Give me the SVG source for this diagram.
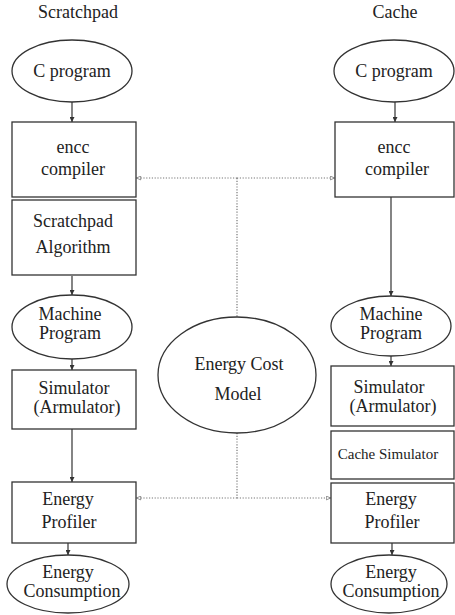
<svg xmlns="http://www.w3.org/2000/svg" width="455" height="615" viewBox="0 0 455 615">
<style>
.n{fill:#fff;stroke:#333;stroke-width:1.3}
.t{font-family:"Liberation Serif","Times New Roman",serif;font-size:18px;fill:#222;text-anchor:middle}
.s{font-size:15px}
.c{stroke:#333;stroke-width:1.2;fill:none}
.d{stroke:#777;stroke-width:1.2;fill:none;stroke-dasharray:1.2 1.6}
</style>
<defs>
<marker id="a" viewBox="0 0 8 8" refX="8" refY="4" markerWidth="5" markerHeight="5" orient="auto" markerUnits="userSpaceOnUse">
<path d="M0,0 L8,4 L0,8 Z" fill="#333"/>
</marker>
<marker id="o" viewBox="0 0 8 8" refX="8" refY="4" markerWidth="6" markerHeight="5" orient="auto" markerUnits="userSpaceOnUse">
<path d="M0.5,1 L7.5,4 L0.5,7 Z" fill="#fff" stroke="#555" stroke-width="1"/>
</marker>
</defs>
<rect width="455" height="615" fill="#fff"/>
<text class="t" x="38" y="18" style="text-anchor:start">Scratchpad</text>
<text class="t" x="395" y="18">Cache</text>

<g id="connectors">
<line class="c" x1="72" y1="102" x2="72" y2="122" marker-end="url(#a)"/>
<line class="c" x1="72" y1="276" x2="72" y2="295" marker-end="url(#a)"/>
<line class="c" x1="72" y1="359" x2="72" y2="370" marker-end="url(#a)"/>
<line class="c" x1="72" y1="429" x2="72" y2="482" marker-end="url(#a)"/>
<line class="c" x1="68" y1="543" x2="68" y2="555" marker-end="url(#a)"/>
<line class="c" x1="395" y1="102" x2="395" y2="122" marker-end="url(#a)"/>
<line class="c" x1="391" y1="197" x2="391" y2="296" marker-end="url(#a)"/>
<line class="c" x1="391" y1="356" x2="391" y2="366" marker-end="url(#a)"/>
<line class="c" x1="392" y1="543" x2="392" y2="555" marker-end="url(#a)"/>
<line class="d" x1="237" y1="178" x2="136" y2="178" marker-end="url(#o)"/>
<line class="d" x1="237" y1="178" x2="335" y2="178" marker-end="url(#o)"/>
<line class="d" x1="237" y1="178" x2="237" y2="318"/>
<line class="d" x1="237" y1="433" x2="237" y2="498"/>
<line class="d" x1="237" y1="498" x2="136" y2="498" marker-end="url(#o)"/>
<line class="d" x1="237" y1="498" x2="331" y2="498" marker-end="url(#o)"/>
</g>

<g id="l-cprog"><ellipse class="n" cx="72" cy="71" rx="60" ry="31"/><text class="t" x="72" y="77">C program</text></g>
<g id="l-encc"><rect class="n" x="12" y="122" width="124" height="75"/><text class="t" x="73" y="153">encc</text><text class="t" x="73" y="175">compiler</text></g>
<g id="l-algo"><rect class="n" x="12" y="200" width="124" height="75"/><text class="t" x="73" y="227">Scratchpad</text><text class="t" x="73" y="253">Algorithm</text></g>
<g id="l-mach"><ellipse class="n" cx="72" cy="327" rx="60" ry="32"/><text class="t" x="70" y="320">Machine</text><text class="t" x="70" y="339">Program</text></g>
<g id="l-sim"><rect class="n" x="12" y="370" width="124" height="59"/><text class="t" x="74" y="394">Simulator</text><text class="t" x="77" y="413">(Armulator)</text></g>
<g id="l-prof"><rect class="n" x="12" y="482" width="124" height="61"/><text class="t" x="68" y="505">Energy</text><text class="t" x="69" y="528">Profiler</text></g>
<g id="l-cons"><ellipse class="n" cx="68" cy="584" rx="61" ry="29"/><text class="t" x="68" y="578">Energy</text><text class="t" x="72" y="597">Consumption</text></g>

<g id="model"><ellipse class="n" cx="237" cy="375" rx="79" ry="58"/><text class="t" x="239" y="370">Energy Cost</text><text class="t" x="238" y="400">Model</text></g>

<g id="r-cprog"><ellipse class="n" cx="394" cy="71" rx="60" ry="31"/><text class="t" x="394" y="77">C program</text></g>
<g id="r-encc"><rect class="n" x="335" y="122" width="119" height="75"/><text class="t" x="394" y="153">encc</text><text class="t" x="397" y="175">compiler</text></g>
<g id="r-mach"><ellipse class="n" cx="391" cy="326" rx="60" ry="30"/><text class="t" x="391" y="320">Machine</text><text class="t" x="391" y="339">Program</text></g>
<g id="r-sim"><rect class="n" x="331" y="366" width="123" height="60"/><text class="t" x="389" y="393">Simulator</text><text class="t" x="393" y="412">(Armulator)</text></g>
<g id="r-csim"><rect class="n" x="331" y="431" width="123" height="48"/><text class="t s" x="388" y="459">Cache Simulator</text></g>
<g id="r-prof"><rect class="n" x="331" y="483" width="123" height="60"/><text class="t" x="391" y="505">Energy</text><text class="t" x="392" y="528">Profiler</text></g>
<g id="r-cons"><ellipse class="n" cx="389" cy="584" rx="58" ry="29"/><text class="t" x="391" y="578">Energy</text><text class="t" x="391" y="597">Consumption</text></g>
</svg>
